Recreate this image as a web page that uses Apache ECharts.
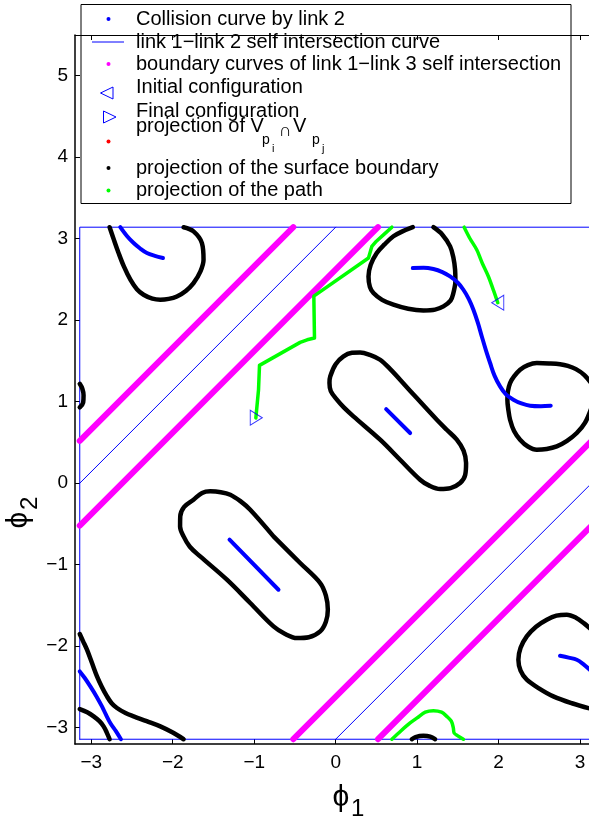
<!DOCTYPE html>
<html>
<head>
    <meta charset="utf-8">
    <title>ECharts</title>
    <script src="https://cdn.jsdelivr.net/npm/echarts@6/dist/echarts.min.js"></script>
    <style>
        html, body { margin: 0; padding: 0; background: #fff; }
    </style>
</head>
<body>
<div id="main" style="width: 589px;height:822px;"></div>
<script type="text/javascript">
    // tick labels
    var xTicks = [-3, -2, -1, 0, 1, 2, 3];
    var yTicks = [-3, -2, -1, 0, 1, 2, 3, 4, 5];

    // link 1 - link 2 self intersection (thin blue)
    var selfDiagUpper = [[-3.1416, 0], [0, 3.1416]];
    var selfDiagLower = [[0, -3.1416], [3.1416, 0]];
    var selfBorder = [[-3.1416, -3.1416], [-3.1416, 3.1416], [3.1416, 3.1416], [3.1416, -3.1416], [-3.1416, -3.1416]];

    // boundary curves of link 1 - link 3 self intersection (magenta)
    var magentaA = [[-3.1416, 0.52], [-0.52, 3.1416]];
    var magentaB = [[-3.1416, -0.52], [0.52, 3.1416]];
    var magentaC = [[-0.52, -3.1416], [3.1416, 0.52]];
    var magentaD = [[0.52, -3.1416], [3.1416, -0.52]];

    // projection of the surface boundary (black)
    var blackTopLeft = [[-2.775, 3.1416], [-2.72, 2.98], [-2.665, 2.825], [-2.60, 2.66], [-2.52, 2.497], [-2.44, 2.38], [-2.358, 2.313], [-2.25, 2.265], [-2.153, 2.252], [-2.05, 2.262], [-1.949, 2.292], [-1.84, 2.36], [-1.745, 2.456], [-1.66, 2.6], [-1.622, 2.742], [-1.642, 2.947], [-1.745, 3.09], [-1.867, 3.1416]];
    var blackLeftEdge = [[-3.1416, 1.22], [-3.11, 1.16], [-3.095, 1.08], [-3.10, 0.99], [-3.1416, 0.93]];
    var blackTopMid = [[0.947, 3.1416], [0.82, 3.09], [0.709, 3.03], [0.60, 2.93], [0.505, 2.825], [0.43, 2.68], [0.403, 2.537], [0.42, 2.41], [0.464, 2.334], [0.57, 2.25], [0.709, 2.19], [0.89, 2.14], [1.077, 2.12], [1.22, 2.13], [1.323, 2.17], [1.41, 2.24], [1.445, 2.334], [1.47, 2.48], [1.466, 2.62], [1.445, 2.77], [1.405, 2.906], [1.31, 3.05], [1.2, 3.1416]];
    var blackBottomMid = [[0.935, -3.1416], [0.98, -3.115], [1.077, -3.10], [1.16, -3.11], [1.22, -3.1416]];
    var blackRight = [[3.1416, 1.22], [3.05, 1.33], [2.95, 1.40], [2.85, 1.44], [2.755, 1.46], [2.62, 1.47], [2.469, 1.475], [2.36, 1.45], [2.264, 1.393], [2.19, 1.31], [2.141, 1.229], [2.115, 1.13], [2.108, 1.025], [2.12, 0.9], [2.141, 0.779], [2.19, 0.64], [2.264, 0.534], [2.36, 0.45], [2.469, 0.411], [2.59, 0.42], [2.714, 0.452], [2.84, 0.52], [2.96, 0.616], [3.06, 0.74], [3.1416, 0.93]];
    var blackUpperCapsule = [[0.791, 1.27], [0.996, 1.045], [1.242, 0.779], [1.37, 0.65], [1.487, 0.534], [1.57, 0.40], [1.601, 0.248], [1.59, 0.10], [1.528, 0.002], [1.41, -0.06], [1.282, -0.071], [1.15, -0.03], [1.037, 0.043], [0.791, 0.288], [0.546, 0.534], [0.218, 0.82], [0.10, 0.93], [0.015, 1.025], [-0.06, 1.13], [-0.076, 1.229], [-0.067, 1.31], [0.0, 1.46], [0.096, 1.556], [0.20, 1.60], [0.3, 1.605], [0.42, 1.575], [0.546, 1.515], [0.67, 1.40], [0.791, 1.27]];
    var blackLowerCapsule = [[-0.763, -0.652], [-0.436, -0.979], [-0.19, -1.225], [-0.12, -1.38], [-0.096, -1.552], [-0.12, -1.70], [-0.19, -1.818], [-0.33, -1.89], [-0.476, -1.9], [-0.62, -1.85], [-0.763, -1.757], [-1.049, -1.47], [-1.335, -1.184], [-1.663, -0.898], [-1.79, -0.78], [-1.867, -0.652], [-1.91, -0.53], [-1.908, -0.407], [-1.86, -0.29], [-1.745, -0.202], [-1.64, -0.12], [-1.54, -0.1], [-1.41, -0.11], [-1.294, -0.141], [-1.17, -0.22], [-1.049, -0.325], [-0.763, -0.652]];
    var blackBottomLeftA = [[-3.1416, -1.85], [-3.1, -1.94], [-3.053, -2.043], [-2.99, -2.21], [-2.93, -2.37], [-2.87, -2.50], [-2.807, -2.616], [-2.75, -2.70], [-2.685, -2.758], [-2.58, -2.82], [-2.48, -2.861], [-2.32, -2.92], [-2.153, -2.984], [-2.0, -3.06], [-1.867, -3.1416]];
    var blackBottomLeftB = [[-3.1416, -2.771], [-3.05, -2.81], [-2.971, -2.861], [-2.90, -2.92], [-2.849, -2.984], [-2.81, -3.06], [-2.775, -3.1416]];
    var blackBottomRight = [[3.1416, -1.80], [3.05, -1.72], [2.95, -1.65], [2.837, -1.613], [2.71, -1.625], [2.592, -1.675], [2.46, -1.76], [2.346, -1.879], [2.27, -2.02], [2.243, -2.166], [2.27, -2.30], [2.346, -2.411], [2.50, -2.52], [2.672, -2.616], [2.90, -2.70], [3.1416, -2.77]];

    // collision curve by link 2 (blue)
    var blueTopLeft = [[-2.644, 3.1416], [-2.56, 3.03], [-2.48, 2.947], [-2.40, 2.88], [-2.317, 2.825], [-2.22, 2.79], [-2.12, 2.763]];
    var blueTopRight = [[0.947, 2.64], [1.08, 2.645], [1.2, 2.628], [1.31, 2.59], [1.405, 2.537], [1.50, 2.46], [1.568, 2.374], [1.635, 2.26], [1.691, 2.129], [1.745, 1.97], [1.794, 1.801], [1.845, 1.63], [1.896, 1.475], [1.95, 1.32], [2.018, 1.188], [2.09, 1.09], [2.182, 1.025], [2.28, 0.98], [2.387, 0.951], [2.52, 0.945], [2.64, 0.951]];
    var blueUpperCapsule = [[0.62, 0.91], [0.914, 0.616]];
    var blueLowerCapsule = [[-1.303, -0.693], [-0.702, -1.307]];
    var blueBottomLeft = [[-3.1416, -2.309], [-3.08, -2.39], [-3.012, -2.493], [-2.94, -2.61], [-2.869, -2.739], [-2.82, -2.84], [-2.767, -2.942], [-2.70, -3.04], [-2.636, -3.1416]];
    var blueBottomRight = [[2.755, -2.117], [2.86, -2.14], [2.96, -2.166], [3.04, -2.22], [3.1416, -2.309]];

    // projection of the path (green)
    var pathA = [[1.577, 3.1416], [1.65, 3.0], [1.732, 2.865], [1.80, 2.70], [1.875, 2.537], [1.94, 2.36], [1.99, 2.215]];
    var pathB = [[1.568, -3.1416], [1.50, -3.10], [1.454, -3.065], [1.445, -3.004], [1.42, -2.92], [1.364, -2.861], [1.30, -2.81], [1.2, -2.791], [1.10, -2.81], [1.0, -2.88], [0.914, -2.942], [0.80, -3.04], [0.69, -3.1416]];
    var pathC = [[0.69, 3.1416], [0.60, 3.06], [0.50, 2.97], [0.444, 2.906], [0.403, 2.763], [-0.268, 2.296], [-0.26, 1.781], [-0.35, 1.76], [-0.436, 1.728], [-0.935, 1.446], [-0.947, 1.147], [-0.98, 0.80]];

    var initialConfig = [[1.99, 2.215]];
    var finalConfig = [[-0.975, 0.804]];

    var FONT = "'Liberation Sans', Arial, Helvetica, sans-serif";

    function curve(data, color, width, smooth, z) {
        return {
            type: 'line',
            data: data,
            symbol: 'none',
            smooth: smooth,
            lineStyle: { color: color, width: width, cap: 'round', join: 'round' },
            z: z,
            silent: true,
            animation: false
        };
    }

    var series = [];
    [selfDiagUpper, selfDiagLower, selfBorder].forEach(function (d) {
        series.push(curve(d, '#0000ff', 1, false, 2));
    });
    [blackTopLeft, blackLeftEdge, blackTopMid, blackBottomMid, blackRight, blackUpperCapsule,
        blackLowerCapsule, blackBottomLeftA, blackBottomLeftB, blackBottomRight].forEach(function (d) {
        series.push(curve(d, '#000000', 4.5, 0.35, 3));
    });
    [blueTopLeft, blueTopRight, blueUpperCapsule, blueLowerCapsule, blueBottomLeft, blueBottomRight].forEach(function (d) {
        series.push(curve(d, '#0000ff', 4, 0.35, 4));
    });
    [magentaA, magentaB, magentaC, magentaD].forEach(function (d) {
        series.push(curve(d, '#ff00ff', 6, false, 5));
    });
    series.push(curve(pathA, '#00ff00', 3.5, 0.3, 6));
    series.push(curve(pathB, '#00ff00', 3.5, 0.3, 6));
    series.push(curve(pathC, '#00ff00', 3.5, false, 6));
    series.push({
        type: 'scatter', data: initialConfig, symbol: 'path://M10,0 L0,6 L10,12 Z', symbolSize: [12, 15],
        itemStyle: { color: 'rgba(0,0,0,0)', borderColor: '#0000ff', borderWidth: 1 }, z: 7, silent: true, animation: false
    });
    series.push({
        type: 'scatter', data: finalConfig, symbol: 'path://M0,0 L10,6 L0,12 Z', symbolSize: [12, 15],
        itemStyle: { color: 'rgba(0,0,0,0)', borderColor: '#0000ff', borderWidth: 1 }, z: 7, silent: true, animation: false
    });

    // legend drawn like the original box
    var legendRows = [
        { y: 19, text: 'Collision curve by link 2', mark: 'dot', color: '#0000ff' },
        { y: 42, text: 'link 1\u2212link 2 self intersection curve', mark: 'line', color: '#0000ff' },
        { y: 64, text: 'boundary curves of link 1\u2212link 3 self intersection', mark: 'dot', color: '#ff00ff' },
        { y: 87, text: 'Initial configuration', mark: 'left', color: '#0000ff' },
        { y: 111, text: 'Final configuration', mark: 'right', color: '#0000ff' },
        { y: 126.5, text: 'projection of V', mark: 'none' },
        { y: 141.5, text: '', mark: 'dot', color: '#ff0000' },
        { y: 168, text: 'projection of the surface boundary', mark: 'dot', color: '#000000' },
        { y: 190.5, text: 'projection of the path', mark: 'dot', color: '#00ff00' }
    ];
    var legendEls = [{
        type: 'rect', shape: { x: 81, y: 4.5, width: 490, height: 199 },
        style: { fill: '#fff', stroke: '#000', lineWidth: 1 }
    }];
    legendRows.forEach(function (r) {
        if (r.text) {
            legendEls.push({
                type: 'text', x: 136, y: r.y,
                style: { text: r.text, font: '20px ' + FONT, fill: '#000', verticalAlign: 'middle' }
            });
        }
        if (r.mark === 'dot') {
            legendEls.push({ type: 'circle', shape: { cx: 108.5, cy: r.y, r: 2 }, style: { fill: r.color } });
        } else if (r.mark === 'line') {
            legendEls.push({ type: 'line', shape: { x1: 92, y1: r.y, x2: 124, y2: r.y }, style: { stroke: r.color, lineWidth: 1 } });
        } else if (r.mark === 'left') {
            legendEls.push({ type: 'polygon', shape: { points: [[113, r.y], [100.5, r.y + 6], [113, r.y + 12]] }, style: { fill: 'none', stroke: r.color, lineWidth: 1 } });
        } else if (r.mark === 'right') {
            legendEls.push({ type: 'polygon', shape: { points: [[103.5, r.y], [116, r.y + 6], [103.5, r.y + 12]] }, style: { fill: 'none', stroke: r.color, lineWidth: 1 } });
        }
    });
    // subscripts of "projection of V_{p_i} ∩ V_{p_j}"
    [
        { x: 262, y: 140, t: 'p', s: 14 },
        { x: 272, y: 149, t: 'i', s: 11 },
        { x: 279, y: 131, t: '\u2229', s: 18 },
        { x: 293, y: 126.5, t: 'V', s: 20 },
        { x: 312, y: 140, t: 'p', s: 14 },
        { x: 322, y: 149, t: 'j', s: 11 }
    ].forEach(function (s) {
        legendEls.push({
            type: 'text', x: s.x, y: s.y,
            style: { text: s.t, font: s.s + 'px ' + FONT, fill: '#000', verticalAlign: 'middle' }
        });
    });

    var myChart = echarts.init(document.getElementById('main'), null, { renderer: 'canvas' });
    var option = {
        backgroundColor: '#ffffff',
        animation: false,
        grid: { left: 75, top: 35, right: 0, height: 709, containLabel: false },
        xAxis: [{
            type: 'value', min: -3.2, max: 3.11, position: 'bottom',
            axisLine: { show: true, onZero: false, lineStyle: { color: '#000', width: 1.5 } },
            axisTick: { show: true, inside: true, length: 5, customValues: xTicks, lineStyle: { color: '#000' } },
            axisLabel: { customValues: xTicks, fontSize: 19, fontFamily: FONT, color: '#000', margin: 9,
                formatter: function (v) { return String(v).replace('-', '\u2212'); } },
            splitLine: { show: false }
        }, {
            type: 'value', min: -3.2, max: 3.11, position: 'top',
            axisLine: { show: true, onZero: false, lineStyle: { color: '#000', width: 1 } },
            axisTick: { show: true, inside: true, length: 5, customValues: xTicks, lineStyle: { color: '#000' } },
            axisLabel: { show: false },
            splitLine: { show: false }
        }],
        yAxis: {
            type: 'value', min: -3.2, max: 5.5,
            axisLine: { show: true, onZero: false, lineStyle: { color: '#000', width: 1.5 } },
            axisTick: { show: true, inside: true, length: 5, customValues: yTicks, lineStyle: { color: '#000' } },
            axisLabel: { customValues: yTicks, fontSize: 19, fontFamily: FONT, color: '#000', margin: 7,
                formatter: function (v) { return String(v).replace('-', '\u2212'); } },
            splitLine: { show: false }
        },
        series: series,
        graphic: [
            { type: 'group', z: 100, children: legendEls },
            { type: 'text', x: 341, y: 798, z: 100,
                style: { text: '\u03d5', font: '30px ' + FONT, fill: '#000', align: 'center', verticalAlign: 'middle' } },
            { type: 'text', x: 351, y: 809, z: 100,
                style: { text: '1', font: '24px ' + FONT, fill: '#000', verticalAlign: 'middle' } },
            { type: 'group', x: 19, y: 520, rotation: Math.PI / 2, z: 100, children: [
                { type: 'text', x: 0, y: 0,
                    style: { text: '\u03d5', font: '30px ' + FONT, fill: '#000', align: 'center', verticalAlign: 'middle' } },
                { type: 'text', x: 10, y: 11,
                    style: { text: '2', font: '24px ' + FONT, fill: '#000', verticalAlign: 'middle' } }
            ] }
        ]
    };
    myChart.setOption(option);
</script>
</body>
</html>
